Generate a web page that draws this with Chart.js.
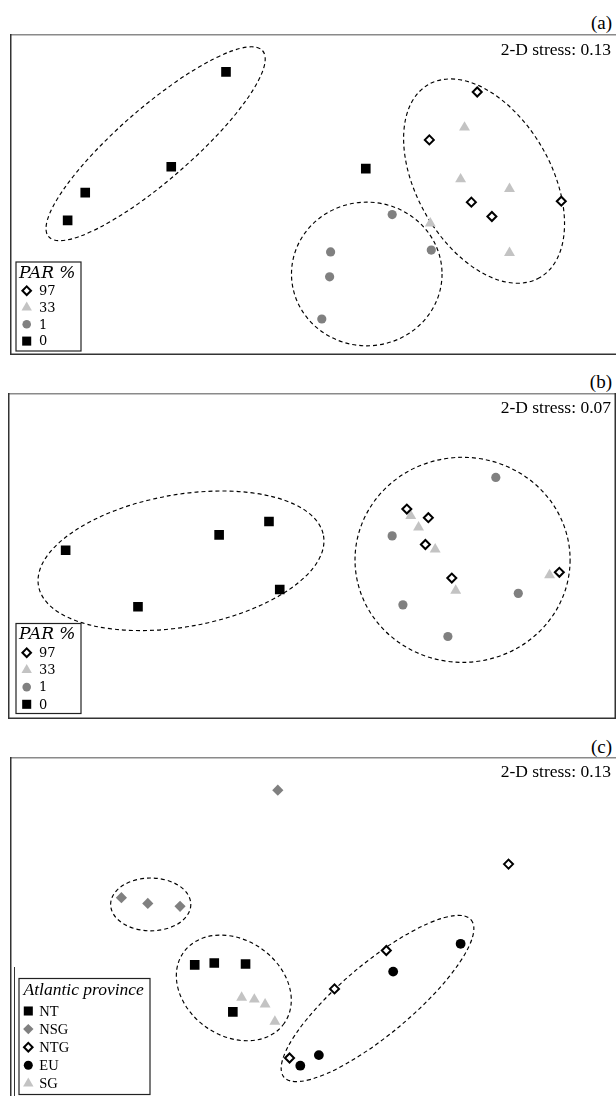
<!DOCTYPE html>
<html>
<head>
<meta charset="utf-8">
<script src="https://cdn.jsdelivr.net/npm/chart.js@4.4.1/dist/chart.umd.min.js"></script>
<style>
  html, body { margin: 0; padding: 0; background: #fff; }
  body { width: 616px; height: 1096px; position: relative; overflow: hidden;
         font-family: "Liberation Serif", "Times New Roman", serif; }
  .panel { position: absolute; }
  .panel canvas { display: block; }
  .tag { position: absolute; right: 4px; font-size: 19px; line-height: 22px; color: #000; }
</style>
</head>
<body>
<div class="tag" style="top:12px">(a)</div>
<div class="panel" style="left:10px;top:34px;width:606px;height:321px"><canvas id="chartA" width="606" height="321"></canvas></div>
<div class="tag" style="top:371px">(b)</div>
<div class="panel" style="left:8px;top:393px;width:608px;height:326px"><canvas id="chartB" width="608" height="326"></canvas></div>
<div class="tag" style="top:736px">(c)</div>
<div class="panel" style="left:10px;top:757px;width:606px;height:339px"><canvas id="chartC" width="606" height="339"></canvas></div>

<script>
// ---- NMDS scores (axis 1, axis 2) ----

// (a) PAR treatment, stress 0.13
const parLabels = ['97', '33', '1', '0'];
const a_par97 = [[1.68, 1.07], [1.19, 0.57], [1.62, -0.08], [1.83, -0.23], [2.54, -0.07]];
const a_par33 = [[1.55, 0.70], [1.51, 0.16], [2.01, 0.06], [1.20, -0.30], [2.01, -0.61]];
const a_par1  = [[0.81, -0.21], [0.18, -0.60], [0.17, -0.86], [1.21, -0.58], [0.09, -1.30]];
const a_par0  = [[-0.89, 1.28], [-1.45, 0.29], [-2.33, 0.02], [-2.51, -0.27], [0.54, 0.27]];
const a_stress = '2-D stress: 0.13';
// cluster outlines: centre x, centre y, semi-axis 1, semi-axis 2, rotation (deg)
const a_clusters = [[-1.61, 0.53, 1.45, 0.38, 41], [0.55, -0.83, 0.77, 0.75, 0], [1.75, 0.14, 1.14, 0.70, -60]];

// (b) PAR treatment, stress 0.07
const b_par97 = [[0.97, 0.49], [1.19, 0.40], [1.16, 0.12], [1.43, -0.23], [2.53, -0.17]];
const b_par33 = [[1.01, 0.42], [1.09, 0.30], [1.26, 0.07], [1.47, -0.36], [2.43, -0.20]];
const b_par1  = [[1.88, 0.82], [0.82, 0.21], [0.93, -0.51], [1.39, -0.84], [2.11, -0.39]];
const b_par0  = [[-2.52, 0.06], [-0.95, 0.22], [-0.44, 0.36], [-0.33, -0.35], [-1.78, -0.53]];
const b_stress = '2-D stress: 0.07';
const b_clusters = [[-1.34, -0.05, 1.48, 0.69, 10], [1.54, -0.04, 1.10, 1.07, 0]];

// (c) Atlantic province, stress 0.13
const provLabels = ['NT', 'NSG', 'NTG', 'EU', 'SG'];
const c_NT  = [[-1.21, -0.40], [-1.01, -0.38], [-0.69, -0.39], [-0.82, -0.89]];
const c_NSG = [[-0.36, 1.42], [-1.96, 0.30], [-1.69, 0.24], [-1.36, 0.21]];
const c_NTG = [[2.00, 0.65], [0.75, -0.25], [0.22, -0.65], [-0.24, -1.37]];
const c_EU  = [[1.51, -0.18], [0.82, -0.47], [0.06, -1.34], [-0.13, -1.45]];
const c_SG  = [[-0.73, -0.74], [-0.60, -0.76], [-0.49, -0.81], [-0.39, -0.99]];
const c_stress = '2-D stress: 0.13';
const c_clusters = [[-1.66, 0.23, 0.41, 0.275, 0], [-0.81, -0.64, 0.63, 0.50, -35], [0.66, -0.75, 1.25, 0.37, 40]];

// ---- marker styles ----
const sty = {
  openDiamond: { pointStyle: 'rectRot', backgroundColor: '#ffffff', borderColor: '#000000', borderWidth: 2, radius: 4.5, legendRadius: 4.3 },
  greyDiamond: { pointStyle: 'rectRot', backgroundColor: '#808080', borderColor: '#808080', borderWidth: 0, radius: 5.6, legendRadius: 5.2 },
  triangle:    { pointStyle: 'triangle', backgroundColor: '#c3c3c3', borderColor: '#c3c3c3', borderWidth: 0, radius: 6.3, legendRadius: 6 },
  greyCircle:  { pointStyle: 'circle', backgroundColor: '#808080', borderColor: '#808080', borderWidth: 0, radius: 4.6, legendRadius: 4.3 },
  blackCircle: { pointStyle: 'circle', backgroundColor: '#000000', borderColor: '#000000', borderWidth: 0, radius: 4.9, legendRadius: 4.5 },
  square:      { pointStyle: 'rect', backgroundColor: '#000000', borderColor: '#000000', borderWidth: 0, radius: 6.8, legendRadius: 6.4 }
};

function series(label, pts, s) {
  return {
    label: label,
    data: pts.map(p => ({ x: p[0], y: p[1] })),
    pointStyle: s.pointStyle,
    backgroundColor: s.backgroundColor,
    borderColor: s.borderColor,
    borderWidth: s.borderWidth,
    pointRadius: s.radius,
    pointHoverRadius: s.radius,
    legendRadius: s.legendRadius
  };
}

// dashed cluster outlines, panel frame, stress label and boxed legend
const nmdsDecor = {
  id: 'nmdsDecor',
  beforeDatasetsDraw(chart, args, opts) {
    const ctx = chart.ctx, xs = chart.scales.x, ys = chart.scales.y;
    ctx.save();
    ctx.strokeStyle = '#000';
    ctx.lineWidth = 1.15;
    ctx.setLineDash([4, 3]);
    for (const e of opts.clusters) {
      const cx = xs.getPixelForValue(e[0]);
      const cy = ys.getPixelForValue(e[1]);
      const r1 = Math.abs(xs.getPixelForValue(e[0] + e[2]) - cx);
      const r2 = Math.abs(ys.getPixelForValue(e[1] + e[3]) - cy);
      ctx.beginPath();
      ctx.ellipse(cx, cy, r1, r2, -e[4] * Math.PI / 180, 0, 2 * Math.PI);
      ctx.stroke();
    }
    ctx.restore();
  },
  afterDatasetsDraw(chart, args, opts) {
    const ctx = chart.ctx, W = chart.width, H = chart.height;
    ctx.save();
    ctx.setLineDash([]);
    // frame
    const f = opts.frame;
    ctx.lineWidth = 1.5;
    ctx.strokeStyle = '#8a8a8a';
    ctx.beginPath(); ctx.moveTo(0, 0.75); ctx.lineTo(W, 0.75); ctx.stroke();
    ctx.strokeStyle = '#333';
    ctx.beginPath(); ctx.moveTo(0.75, 0); ctx.lineTo(0.75, H); ctx.stroke();
    if (f.bottom) { ctx.beginPath(); ctx.moveTo(0, H - 0.75); ctx.lineTo(W, H - 0.75); ctx.stroke(); }
    if (f.right) { ctx.beginPath(); ctx.moveTo(W - 0.75, 0); ctx.lineTo(W - 0.75, H); ctx.stroke(); }
    if (f.inner) {
      ctx.lineWidth = 1;
      ctx.beginPath(); ctx.moveTo(f.inner[0], f.inner[1]); ctx.lineTo(f.inner[0], H); ctx.stroke();
    }
    // stress
    ctx.fillStyle = '#000';
    ctx.font = '17.5px "Liberation Serif", serif';
    ctx.textAlign = 'right';
    ctx.textBaseline = 'middle';
    ctx.fillText(opts.stress, opts.stressPos[0], opts.stressPos[1]);
    // legend
    const L = opts.legend;
    ctx.fillStyle = '#fff';
    ctx.fillRect(L.box[0], L.box[1], L.box[2], L.box[3]);
    ctx.strokeStyle = '#222';
    ctx.lineWidth = 1.2;
    ctx.strokeRect(L.box[0] + 0.5, L.box[1] + 0.5, L.box[2], L.box[3]);
    ctx.fillStyle = '#000';
    ctx.textAlign = 'left';
    ctx.font = L.titleFont;
    ctx.fillText(L.title, L.titleAt[0], L.titleAt[1]);
    ctx.font = L.itemFont;
    chart.data.datasets.forEach((ds, i) => {
      const y = L.rowY + i * L.rowStep;
      ctx.fillStyle = ds.backgroundColor;
      ctx.strokeStyle = ds.borderColor;
      ctx.lineWidth = ds.borderWidth;
      Chart.helpers.drawPoint(ctx, { pointStyle: ds.pointStyle, radius: ds.legendRadius, borderWidth: ds.borderWidth, rotation: 0 }, L.markerX, y);
      ctx.fillStyle = '#000';
      ctx.fillText(ds.label, L.textX, y + 1);
    });
    ctx.restore();
  }
};

function makeChart(id, datasets, range, deco) {
  return new Chart(document.getElementById(id), {
    type: 'scatter',
    data: { datasets: datasets },
    options: {
      responsive: false,
      animation: false,
      events: [],
      layout: { padding: 0 },
      scales: {
        x: { type: 'linear', min: range[0], max: range[1], display: false },
        y: { type: 'linear', min: range[2], max: range[3], display: false }
      },
      plugins: { legend: { display: false }, tooltip: { enabled: false }, nmdsDecor: deco }
    },
    plugins: [nmdsDecor]
  });
}

const parTitleFont = 'italic 17px "DejaVu Serif", serif';
const parItemFont = '13px "DejaVu Serif", serif';

makeChart('chartA', [
  series(parLabels[0], a_par97, sty.openDiamond),
  series(parLabels[1], a_par33, sty.triangle),
  series(parLabels[2], a_par1, sty.greyCircle),
  series(parLabels[3], a_par0, sty.square)
], [-3.03, 3.03, -1.605, 1.605], {
  clusters: a_clusters,
  stress: a_stress, stressPos: [601, 16.5],
  frame: { bottom: true, right: false },
  legend: { box: [5.5, 227.5, 65, 89], title: 'PAR %', titleFont: parTitleFont, titleAt: [9, 239.5],
            itemFont: parItemFont, rowY: 256.7, rowStep: 16.8, markerX: 16.7, textX: 29 }
});

makeChart('chartB', [
  series(parLabels[0], b_par97, sty.openDiamond),
  series(parLabels[1], b_par33, sty.triangle),
  series(parLabels[2], b_par1, sty.greyCircle),
  series(parLabels[3], b_par0, sty.square)
], [-3.04, 3.04, -1.63, 1.63], {
  clusters: b_clusters,
  stress: b_stress, stressPos: [603, 15.5],
  frame: { bottom: true, right: true },
  legend: { box: [7.5, 230, 65, 90], title: 'PAR %', titleFont: parTitleFont, titleAt: [11, 242],
            itemFont: parItemFont, rowY: 259.7, rowStep: 17.2, markerX: 18.7, textX: 31 }
});

makeChart('chartC', [
  series(provLabels[0], c_NT, sty.square),
  series(provLabels[1], c_NSG, sty.greyDiamond),
  series(provLabels[2], c_NTG, sty.openDiamond),
  series(provLabels[3], c_EU, sty.blackCircle),
  series(provLabels[4], c_SG, sty.triangle)
], [-3.03, 3.03, -1.695, 1.695], {
  clusters: c_clusters,
  stress: c_stress, stressPos: [601, 15.5],
  frame: { bottom: false, right: false, inner: [4.5, 210] },
  legend: { box: [8.5, 221, 131, 116], title: 'Atlantic province', titleFont: 'italic 17.5px "Liberation Serif", serif', titleAt: [13.5, 233],
            itemFont: '14.5px "Liberation Serif", serif', rowY: 254, rowStep: 18.1, markerX: 18.3, textX: 29.3 }
});
</script>
</body>
</html>
